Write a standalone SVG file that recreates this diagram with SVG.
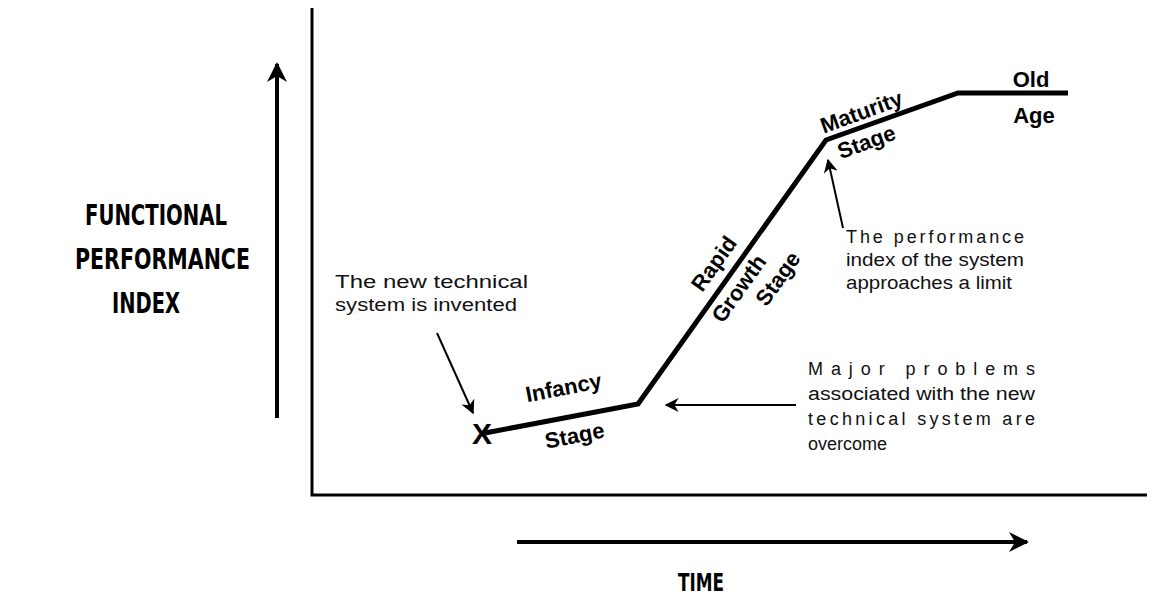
<svg xmlns="http://www.w3.org/2000/svg" width="1155" height="598" viewBox="0 0 1155 598">
  <style>
    .axis { stroke: #000; stroke-width: 3; fill: none; }
    .curve { stroke: #000; stroke-width: 5; fill: none; stroke-linejoin: miter; }
    .thin { stroke: #000; stroke-width: 2; fill: none; }
    .big { font-family: "DejaVu Sans", "Liberation Sans", sans-serif; font-weight: bold; font-size: 29px; fill: #000; }
    .stage { font-family: "Liberation Sans", Arial, sans-serif; font-weight: bold; font-size: 22px; fill: #000; }
    .mark { font-family: "Liberation Sans", Arial, sans-serif; font-weight: bold; font-size: 30px; fill: #000; }
    .time { font-family: "DejaVu Sans", "Liberation Sans", sans-serif; font-weight: bold; font-size: 25px; fill: #000; }
    .note { font-family: "Liberation Sans", Arial, sans-serif; font-size: 18px; fill: #111; }
  </style>
  <defs>
    <marker id="headBig" viewBox="0 0 10 10" refX="9" refY="5" markerWidth="5" markerHeight="5" orient="auto" markerUnits="strokeWidth">
      <path d="M0,0 L10,5 L0,10 L3,5 Z" fill="#000"/>
    </marker>
    <marker id="headSmall" viewBox="0 0 10 10" refX="9" refY="5" markerWidth="7" markerHeight="7" orient="auto" markerUnits="strokeWidth">
      <path d="M0,0 L10,5 L0,10 L3,5 Z" fill="#000"/>
    </marker>
  </defs>
  <rect width="1155" height="598" fill="#fff"/>

  <!-- axes -->
  <g id="axes">
    <polyline class="axis" points="312,8 312,495 1147,495"/>
  </g>

  <!-- direction arrows -->
  <g id="performance-arrow">
    <line x1="277" y1="418" x2="277" y2="64" stroke="#000" stroke-width="4" marker-end="url(#headBig)"/>
  </g>
  <g id="time-arrow">
    <line x1="517" y1="542" x2="1027" y2="542" stroke="#000" stroke-width="4" marker-end="url(#headBig)"/>
  </g>

  <!-- axis titles -->
  <g id="y-title">
    <text class="big" x="85" y="225" textLength="142" lengthAdjust="spacingAndGlyphs">FUNCTIONAL</text>
    <text class="big" x="75" y="269" textLength="175" lengthAdjust="spacingAndGlyphs">PERFORMANCE</text>
    <text class="big" x="112" y="313" textLength="68" lengthAdjust="spacingAndGlyphs">INDEX</text>
  </g>
  <g id="x-title">
    <text class="time" x="678" y="591" textLength="46" lengthAdjust="spacingAndGlyphs">TIME</text>
  </g>

  <!-- S-curve -->
  <g id="s-curve">
    <polyline class="curve" points="485,433 638,404 826,140 958,93 1068,93"/>
    <text class="mark" x="482" y="444" text-anchor="middle">X</text>
  </g>

  <!-- stage labels -->
  <g id="stage-infancy">
    <text class="stage" transform="translate(565,395) rotate(-11)" text-anchor="middle">Infancy</text>
    <text class="stage" transform="translate(576,443) rotate(-11)" text-anchor="middle">Stage</text>
  </g>
  <g id="stage-growth">
    <text class="stage" transform="translate(720,268) rotate(-54.5)" text-anchor="middle">Rapid</text>
    <text class="stage" transform="translate(745,293) rotate(-54.5)" text-anchor="middle">Growth</text>
    <text class="stage" transform="translate(784,283) rotate(-54.5)" text-anchor="middle">Stage</text>
  </g>
  <g id="stage-maturity">
    <text class="stage" transform="translate(864,119) rotate(-20)" text-anchor="middle">Maturity</text>
    <text class="stage" transform="translate(869,149) rotate(-20)" text-anchor="middle">Stage</text>
  </g>
  <g id="stage-old-age">
    <text class="stage" x="1031" y="87" text-anchor="middle">Old</text>
    <text class="stage" x="1034" y="123" text-anchor="middle">Age</text>
  </g>

  <!-- annotations -->
  <g id="note-invented">
    <text class="note" x="335" y="288" textLength="193" lengthAdjust="spacingAndGlyphs">The new technical</text>
    <text class="note" x="335" y="311" textLength="182" lengthAdjust="spacingAndGlyphs">system is invented</text>
  </g>
  <g id="note-limit">
    <text class="note" x="846" y="243" textLength="178" lengthAdjust="spacing">The performance</text>
    <text class="note" x="846" y="266" textLength="178" lengthAdjust="spacingAndGlyphs">index of the system</text>
    <text class="note" x="846" y="289" textLength="166" lengthAdjust="spacingAndGlyphs">approaches a limit</text>
  </g>
  <g id="note-problems">
    <text class="note" x="808" y="375" textLength="227" lengthAdjust="spacing">Major  problems</text>
    <text class="note" x="808" y="400" textLength="227" lengthAdjust="spacingAndGlyphs">associated with the new</text>
    <text class="note" x="808" y="425" textLength="227" lengthAdjust="spacing">technical system are</text>
    <text class="note" x="808" y="450">overcome</text>
  </g>

  <!-- annotation leaders -->
  <g id="connectors">
    <line class="thin" x1="437" y1="333" x2="473" y2="413" marker-end="url(#headSmall)"/>
    <line class="thin" x1="843" y1="228" x2="828" y2="160" marker-end="url(#headSmall)"/>
    <line class="thin" x1="796" y1="405" x2="666" y2="405" marker-end="url(#headSmall)"/>
  </g>
</svg>
